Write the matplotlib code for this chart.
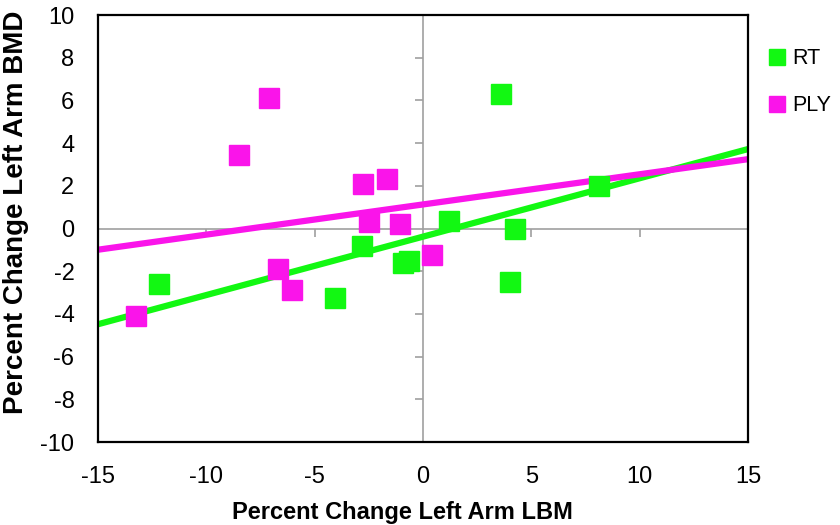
import numpy as np
import matplotlib
matplotlib.use("Agg")
import matplotlib.pyplot as plt

plt.rcParams["font.family"] = ["Liberation Sans", "DejaVu Sans"]
plt.rcParams["axes.unicode_minus"] = False

# RT group
rt_lbm = [-12.2, -4.08, -2.8, -0.94, -0.66, 1.2, 3.6, 4.03, 4.26, 8.1]
rt_bmd = [-2.6, -3.27, -0.8, -1.6, -1.5, 0.35, 6.29, -2.49, -0.04, 2.0]

# PLY group
ply_lbm = [-13.25, -8.51, -7.1, -6.68, -6.03, -2.77, -2.48, -1.66, -1.06, 0.41]
ply_bmd = [-4.1, 3.46, 6.1, -1.91, -2.9, 2.07, 0.32, 2.32, 0.21, -1.23]

x_ticks = [-15, -10, -5, 0, 5, 10, 15]
y_ticks = [-10, -8, -6, -4, -2, 0, 2, 4, 6, 8, 10]

green = "#12F812"
magenta = "#FA14EA"

fig = plt.figure(figsize=(8.4, 5.25), dpi=100)
pos = [0.1167, 0.158, 0.7738, 0.8134]

# zero-crossing axes with tick marks (Excel style), drawn underneath
ax0 = fig.add_axes(pos)
ax0.set_xlim(-15, 15)
ax0.set_ylim(-10, 10)
for s in ["top", "right"]:
    ax0.spines[s].set_visible(False)
ax0.spines["left"].set_position(("data", 0))
ax0.spines["bottom"].set_position(("data", 0))
for s in ["left", "bottom"]:
    ax0.spines[s].set_color("#A0A0A0")
    ax0.spines[s].set_linewidth(1.2)
ax0.set_xticks([t for t in x_ticks if t not in (-15, 0, 15)])
ax0.set_yticks([t for t in y_ticks if t not in (-10, 0, 10)])
ax0.tick_params(axis="both", colors="#A0A0A0", length=6, width=1.2,
                labelleft=False, labelbottom=False)

ax = fig.add_axes(pos)
ax.patch.set_alpha(0)
ax.set_xlim(-15, 15)
ax.set_ylim(-10, 10)

xs = np.array([-15, 15])
for lx, ly, c in [(rt_lbm, rt_bmd, green), (ply_lbm, ply_bmd, magenta)]:
    k, b = np.polyfit(lx, ly, 1)
    ax.plot(xs, k * xs + b, color=c, lw=4.5, solid_capstyle="butt", zorder=2)

ax.plot(rt_lbm, rt_bmd, "s", color=green, ms=15, label="RT", zorder=3)
ax.plot(ply_lbm, ply_bmd, "s", color=magenta, ms=15, label="PLY", zorder=3)

ax.set_xticks(x_ticks)
ax.set_yticks(y_ticks)
ax.tick_params(axis="both", length=0, labelsize=17)
ax.tick_params(axis="x", pad=17)
ax.tick_params(axis="y", pad=17)
for s in ax.spines.values():
    s.set_color("black")
    s.set_linewidth(1.6)

ax.set_xlabel("Percent Change Left Arm LBM", fontsize=17, fontweight="bold")
ax.xaxis.set_label_coords(0.468, -0.139)
ax.set_ylabel("Percent Change Left Arm BMD", fontsize=20, fontweight="bold")
ax.yaxis.set_label_coords(-0.106, 0.539)

fig.legend(loc="upper left", bbox_to_anchor=(0.893, 0.945), frameon=False,
           fontsize=15.5, markerscale=0.77, handlelength=0.7, handletextpad=0.35,
           labelspacing=1.2)

fig.savefig("out.png", dpi=100)
